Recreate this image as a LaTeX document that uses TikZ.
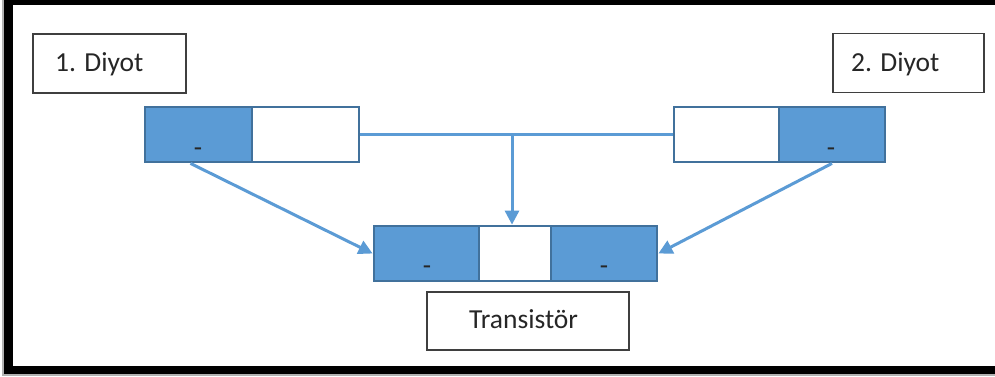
\documentclass[tikz,border=0pt]{standalone}
\usepackage{fontspec}
\setmainfont{Carlito}
\usetikzlibrary{arrows.meta}
\definecolor{fillblue}{HTML}{5B9BD5}
\definecolor{edgeblue}{HTML}{41719C}
\definecolor{lineblue}{HTML}{5B9BD5}
\definecolor{boxgray}{HTML}{3F3F3F}
\tikzset{
  cell/.style={draw=edgeblue, line width=2.8pt, minimum height=55pt, inner sep=0pt},
  ncell/.style={cell, fill=fillblue},
  pcell/.style={cell, fill=white},
  labelbox/.style={draw=boxgray, line width=1.3pt, minimum height=59pt, inner sep=0pt, fill=white},
  txt/.style={font=\fontsize{27.5}{30}\selectfont, text=black!85, inner sep=0pt, anchor=base west},
  minus/.style={font=\fontsize{27}{30}\selectfont, text=black!85, inner sep=0pt, anchor=base},
  conn/.style={draw=lineblue, line width=3pt},
  arr/.style={conn, -{Triangle[length=14pt,width=14pt]}}
}
\begin{document}
\begin{tikzpicture}[x=1pt,y=-1pt]
\useasboundingbox (0,0) rectangle (995,376);
\clip (0,0) rectangle (995,376);
\fill[white] (0,0) rectangle (995,376);
% outer frame with light shadow
\draw[gray!60, line width=2pt] (3,0) -- (3,375) -- (995,375);
\draw[black, line width=8.5pt] (8.3,1) rectangle (1010,370);
% label boxes
\node[labelbox, minimum width=153pt] (lb1) at (109.5,63.5) {};
\node[txt] (t1) at (55,71) {1. Diyot};
\node[labelbox, minimum width=151pt] (lb2) at (908.5,63) {};
\node[txt] (t2) at (851,71) {2. Diyot};
\node[labelbox, minimum width=202pt, minimum height=58pt] (lb3) at (528,321) {};
\node[txt] (t3) at (469,328) {Transistör};
% diode 1
\node[ncell, minimum width=107pt] (d1n) at (198.5,134.5) {};
\node[pcell, minimum width=107pt] (d1p) at (305.5,134.5) {};
% diode 2
\node[pcell, minimum width=105pt] (d2p) at (726.5,134.5) {};
\node[ncell, minimum width=106pt] (d2n) at (832,134.5) {};
% transistor
\node[ncell, minimum width=105pt] (tl) at (426.5,253.5) {};
\node[pcell, minimum width=72pt] (tc) at (515,253.5) {};
\node[ncell, minimum width=106pt] (tr) at (604,253.5) {};
% minus signs
\node[minus] (m1) at (198,156) {-};
\node[minus] (m2) at (831,156) {-};
\node[minus] (m3) at (427,274.5) {-};
\node[minus] (m4) at (604,274.5) {-};
% connectors
\draw[conn] (d1p.east) -- (d2p.west);
\coordinate (j) at ([xshift=-3pt]tc.north |- d1p.east);
\draw[arr] (j) -- ([xshift=-3pt]tc.north);
\draw[arr] ([xshift=-8pt]d1n.south) -- (tl.west);
\draw[arr] (d2n.south) -- (tr.east);
\end{tikzpicture}
\end{document}
